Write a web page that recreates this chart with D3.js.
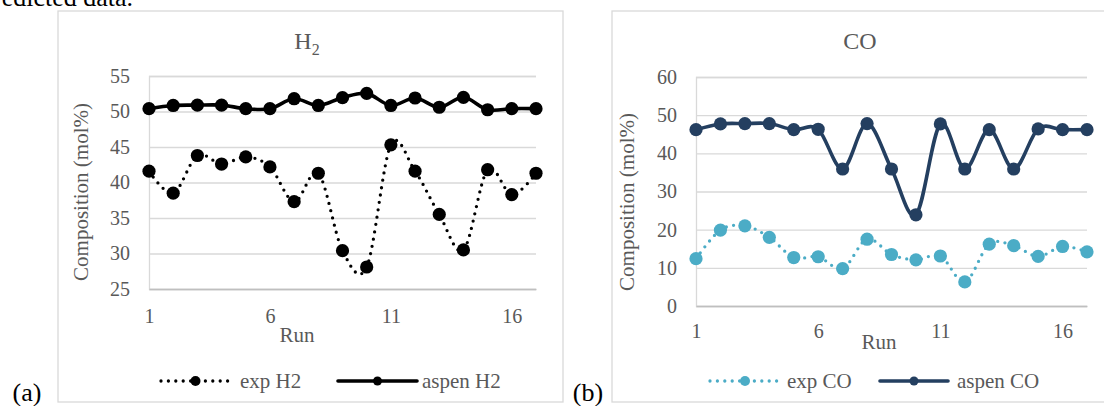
<!DOCTYPE html>
<html>
<head>
<meta charset="utf-8">
<script src="https://cdn.jsdelivr.net/npm/d3@7"></script>
<style>
body{margin:0;background:#fff;overflow:hidden;}
</style>
</head>
<body>
<svg width="1104" height="406"></svg>
<script>
// 数据 ..............................................................
var runs = [1,2,3,4,5,6,7,8,9,10,11,12,13,14,15,16,17];
var xTicks = [1,6,11,16];
var h2Ticks = [25,30,35,40,45,50,55];
var coTicks = [0,10,20,30,40,50,60];
var expH2   = [41.6,38.5,43.8,42.6,43.6,42.2,37.3,41.3,30.4,28.1,45.3,41.6,35.5,30.5,41.8,38.3,41.3];
var aspenH2 = [50.4,50.85,50.9,50.9,50.4,50.4,51.8,50.85,51.95,52.55,50.85,51.9,50.6,52.0,50.25,50.4,50.4];
var expCO   = [12.4,19.9,21.0,18.0,12.7,12.9,9.8,17.5,13.5,12.1,13.1,6.3,16.2,15.8,13.0,15.6,14.2];
var aspenCO = [46.2,47.7,47.8,47.8,46.2,46.3,35.9,47.8,35.9,23.9,47.7,35.9,46.2,35.9,46.4,46.2,46.2];

var svg = d3.select("svg");
var grey = "#595959";
var serif = "'Liberation Serif'";

// 页面上方被截断的正文
svg.append("text")
    .attr("x",133).attr("y",6)
    .attr("text-anchor","end")
    .style("font-family",serif)
    .style("font-size","26px")
    .attr("fill","#000")
    .text("predicted data.");

const drawPanel = (p) => {
    // 外框
    svg.append("rect")
        .attr("x",p.box[0]).attr("y",p.box[1])
        .attr("width",p.box[2]).attr("height",p.box[3])
        .attr("fill","none")
        .attr("stroke","#d9d9d9")
        .attr("stroke-width",1.3);

    var xScale = d3.scaleLinear().domain([1,17]).range([p.left,p.right]);
    var yScale = d3.scaleLinear().domain(d3.extent(p.yTicks)).range([p.bottom,p.top]);

    // y轴 + 网格线
    var gy = svg.append("g")
        .attr("transform","translate("+p.left+",0)")
        .call(d3.axisLeft(yScale).tickValues(p.yTicks).tickSize(-(p.right-p.left)).tickPadding(19));
    gy.select(".domain").attr("stroke","#d9d9d9").attr("stroke-width",1.3);
    gy.selectAll("line").attr("stroke","#d9d9d9").attr("stroke-width",1.3);
    gy.selectAll("text").attr("fill",grey).style("font-family",serif).style("font-size","20px");

    // x轴
    var gx = svg.append("g")
        .attr("transform","translate(0,"+p.bottom+")")
        .call(d3.axisBottom(xScale).tickValues(xTicks).tickSize(0).tickPadding(p.xPad));
    gx.select(".domain").attr("stroke","#bfbfbf").attr("stroke-width",1.6);
    gx.selectAll("text").attr("fill",grey).style("font-family",serif).style("font-size","20px");

    // 标题
    var title = svg.append("text")
        .attr("x",p.titleX).attr("y",49)
        .attr("text-anchor","middle")
        .attr("fill",grey)
        .style("font-family",serif)
        .style("font-size","24px")
        .text(p.title);
    if (p.sub) {
        title.append("tspan").attr("dy",6).style("font-size","16px").text(p.sub);
    }

    // 轴标题
    svg.append("text")
        .attr("transform","translate("+p.yTitle[0]+","+p.yTitle[1]+") rotate(-90)")
        .attr("text-anchor","middle")
        .attr("dy","0.3em")
        .attr("fill",grey)
        .style("font-family",serif)
        .style("font-size","21px")
        .text("Composition (mol%)");
    svg.append("text")
        .attr("x",p.runLabel[0]).attr("y",p.runLabel[1])
        .attr("text-anchor","middle")
        .attr("fill",grey)
        .style("font-family",serif)
        .style("font-size","21px")
        .text("Run");

    // 折线（平滑） + 圆点
    var line = d3.line()
        .x((d,i)=>xScale(runs[i]))
        .y(d=>yScale(d))
        .curve(d3.curveCatmullRom.alpha(0));
    p.series.forEach(s => {
        svg.append("path")
            .datum(s.values)
            .attr("d",line)
            .attr("fill","none")
            .attr("stroke",s.color)
            .attr("stroke-width",s.dotted ? 3.3 : 3.6)
            .attr("stroke-linecap",s.dotted ? "round" : "butt")
            .attr("stroke-linejoin","round")
            .attr("stroke-dasharray",s.dotted ? "0 7.4" : null);
        svg.append("g").selectAll("circle")
            .data(s.values)
            .enter()
            .append("circle")
            .attr("cx",(d,i)=>xScale(runs[i]))
            .attr("cy",d=>yScale(d))
            .attr("r",6.6)
            .attr("fill",s.color);
    });

    // 图例
    p.series.forEach((s,k) => {
        var lx = p.legend[k];
        svg.append("line")
            .attr("x1",lx[0]).attr("x2",lx[1])
            .attr("y1",381).attr("y2",381)
            .attr("stroke",s.color)
            .attr("stroke-width",s.dotted ? 3.3 : 3.6)
            .attr("stroke-linecap","round")
            .attr("stroke-dasharray",s.dotted ? "0 7.4" : null);
        svg.append("circle")
            .attr("cx",(lx[0]+lx[1])/2).attr("cy",381)
            .attr("r",s.dotted ? 5 : 4.5)
            .attr("fill",s.color);
        svg.append("text")
            .attr("x",lx[2]).attr("y",381)
            .attr("dy","0.32em")
            .attr("fill",grey)
            .style("font-family",serif)
            .style("font-size","21px")
            .text(s.name);
    });

    // (a)/(b)
    svg.append("text")
        .attr("x",p.tag[0]).attr("y",401)
        .attr("text-anchor","middle")
        .attr("fill","#000")
        .style("font-family",serif)
        .style("font-size","26px")
        .text(p.tag[1]);
};

drawPanel({
    box:[58,11,505,391],
    left:149,right:536,top:76,bottom:289,xPad:20,
    yTicks:h2Ticks,
    title:"H",sub:"2",titleX:307,
    yTitle:[82,192],runLabel:[297,342],
    legend:[[161,230,240],[338,417,422]],
    tag:[27,"(a)"],
    series:[
        {name:"exp H2",values:expH2,color:"#000",dotted:true},
        {name:"aspen H2",values:aspenH2,color:"#000",dotted:false}
    ]
});

drawPanel({
    box:[612,11,500,391],
    left:696,right:1087,top:77,bottom:306,xPad:18,
    yTicks:coTicks,
    title:"CO",titleX:860,
    yTitle:[628,202],runLabel:[879,349],
    legend:[[710,780,787],[880,948,957]],
    tag:[588,"(b)"],
    series:[
        {name:"exp CO",values:expCO,color:"#4bacc6",dotted:true},
        {name:"aspen CO",values:aspenCO,color:"#243f60",dotted:false}
    ]
});
</script>
</body>
</html>
